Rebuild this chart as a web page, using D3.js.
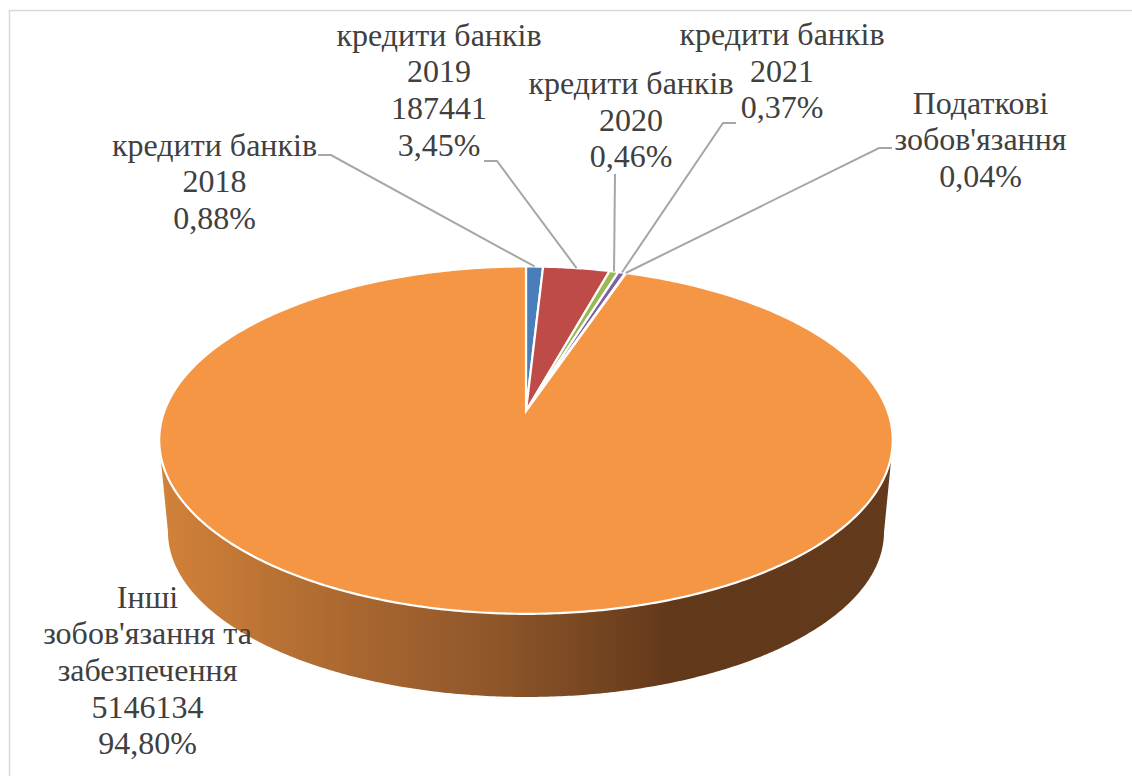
<!DOCTYPE html>
<html><head><meta charset="utf-8">
<script src="https://cdn.jsdelivr.net/npm/d3@7"></script>
<style>html,body{margin:0;background:#fff}svg{display:block}</style></head>
<body><svg id="c" width="1132" height="776"></svg>
<script>
const categories=["кредити банків 2018","кредити банків 2019","кредити банків 2020","кредити банків 2021","Податкові зобов'язання","Інші зобов'язання та забезпечення"];
const shares=[0.88,3.45,0.46,0.37,0.04,94.80];
const absoluteValues=[null,187441,null,null,null,5146134];
const shareLabels=["0,88%","3,45%","0,46%","0,37%","0,04%","94,80%"];
const colors=["#4a7ebb","#be4b48","#98b954","#7d60a0","#46aac5","#f49644"];

const labelLines=[
 ["кредити банків","2018","0,88%"],
 ["кредити банків","2019","187441","3,45%"],
 ["кредити банків","2020","0,46%"],
 ["кредити банків","2021","0,37%"],
 ["Податкові","зобов'язання","0,04%"],
 ["Інші","зобов'язання та","забезпечення","5146134","94,80%"]];
const labelPos=[[214.5,155.5],[439,45.5],[631,94],[782,45],[980.5,113.5],[147.5,607.5]];
const elbows=[[[318,155],[331,155]],[[484,161],[497,161]],[[615,174]],[[736,123],[723,123]],[[892,148],[879,148]],null];

const svg=d3.select("#c");
const cx=526,apexY=411,a=361.6,b=168.8,p=0.1677;
const proj=t=>{const u=Math.sin(t),v=Math.cos(t),w=1+p*v;return [cx+a*u/w,apexY-b*v/w];};
const botCy=532,botRx=358,botRy=165;
const bot=t=>[cx+botRx*Math.sin(t),botCy-botRy*Math.cos(t)];

const defs=svg.append("defs");
const grad=defs.append("linearGradient").attr("id","wall").attr("gradientUnits","userSpaceOnUse")
 .attr("x1",160).attr("x2",892).attr("y1",0).attr("y2",0);
[[0,"#d28239"],[0.2,"#b26d32"],[0.45,"#90572a"],[0.7,"#62381a"],[1,"#643a1c"]].forEach(s=>grad.append("stop").attr("offset",s[0]).attr("stop-color",s[1]));

svg.append("rect").attr("x",9.5).attr("y",10.5).attr("width",1140).attr("height",800).attr("fill","#fff").attr("stroke","#d9d9d9").attr("stroke-width",1.5);

const line=d3.line();
const slices=d3.pie().sort(null).value(d=>d)(shares);

// side wall: front part of rim down to the lower ellipse
const topAngs=d3.range(Math.PI/2+0.19,3*Math.PI/2-0.19+1e-6,0.01);
const botAngs=d3.range(3*Math.PI/2,Math.PI/2-1e-6,-0.01);
svg.append("path").attr("d",line(topAngs.map(proj).concat(botAngs.map(bot)))+"Z").attr("fill","url(#wall)");

// top face
slices.forEach((s,i)=>{
  const n=Math.max(2,Math.ceil((s.endAngle-s.startAngle)/0.01));
  const pts=[[cx,apexY]];
  for(let k=0;k<=n;k++) pts.push(proj(s.startAngle+(s.endAngle-s.startAngle)*k/n));
  svg.append("path").attr("d",line(pts)+"Z").attr("fill",colors[i]).attr("stroke","#fff").attr("stroke-width",2.2).attr("stroke-linejoin","miter");
});

// leaders
slices.forEach((s,i)=>{
  if(!elbows[i])return;
  const pts=elbows[i].concat([proj((s.startAngle+s.endAngle)/2)]);
  svg.append("path").attr("d",line(pts)).attr("fill","none").attr("stroke","#a6a6a6").attr("stroke-width",2);
});

// labels
labelLines.forEach((ls,i)=>{
  const t=svg.append("text").attr("text-anchor","middle").attr("font-family","'Liberation Serif',serif").attr("font-size",32).attr("fill","#404040");
  ls.forEach((l,k)=>t.append("tspan").attr("x",labelPos[i][0]).attr("y",labelPos[i][1]+k*36.7).text(l));
});
</script></body></html>
